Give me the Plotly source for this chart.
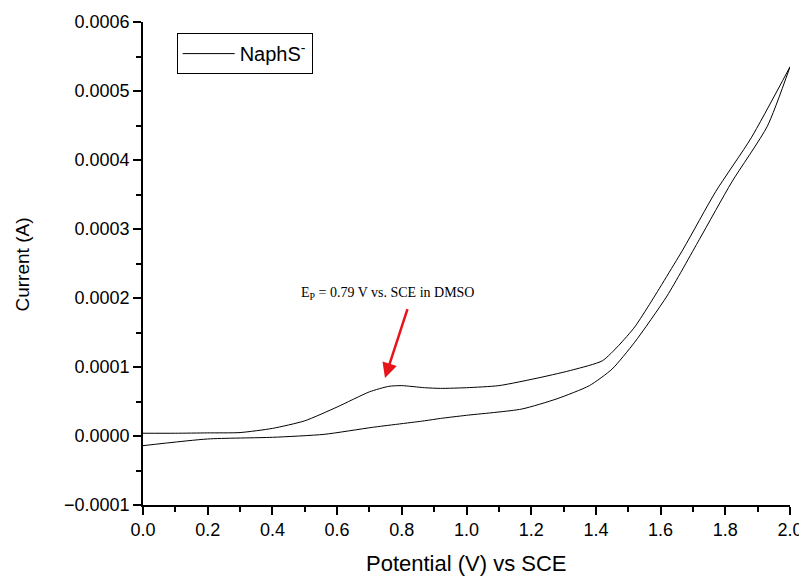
import plotly.graph_objects as go

# Forward scan (0 -> 2.0 V)
v_forward = [0.0, 0.1, 0.2, 0.3, 0.4, 0.5, 0.6, 0.7, 0.76, 0.8, 0.87, 0.92, 1.0, 1.1,
             1.23, 1.33, 1.42, 1.47, 1.52, 1.57, 1.67, 1.77, 1.88, 2.0]
i_forward = [4e-6, 4e-6, 4.5e-6, 5e-6, 1.1e-5, 2.2e-5, 4.2e-5, 6.4e-5, 7.2e-5, 7.3e-5,
             7.0e-5, 6.9e-5, 7.0e-5, 7.3e-5, 8.5e-5, 9.6e-5, 1.09e-4, 1.31e-4, 1.58e-4,
             1.94e-4, 2.71e-4, 3.54e-4, 4.32e-4, 5.35e-4]

# Reverse scan (2.0 -> 0 V)
v_reverse = [2.0, 1.93, 1.82, 1.72, 1.62, 1.52, 1.45, 1.38, 1.28, 1.17, 1.0, 0.92, 0.87,
             0.71, 0.56, 0.4, 0.2, 0.0]
i_reverse = [5.35e-4, 4.49e-4, 3.68e-4, 2.85e-4, 2.03e-4, 1.36e-4, 9.7e-5, 7.3e-5, 5.4e-5,
             3.9e-5, 3.0e-5, 2.55e-5, 2.2e-5, 1.26e-5, 2.4e-6, -1.9e-6, -4.3e-6, -1.4e-5]

series_name = "NaphS<sup>-</sup>"
peak_label = "E<sub>P</sub> = 0.79 V vs. SCE in DMSO"
x_title = "Potential (V) vs SCE"
y_title = "Current (A)"
arrow_tail = (0.819, 1.86e-4)
arrow_head = (0.748, 8.4e-5)

sans = "Arial, Liberation Sans, sans-serif"

fig = go.Figure()
fig.add_trace(go.Scatter(
    x=v_forward, y=i_forward, mode="lines",
    line=dict(color="black", width=1, shape="spline", smoothing=0.6),
    name=series_name, showlegend=True, legendgroup="a",
))
fig.add_trace(go.Scatter(
    x=v_reverse, y=i_reverse, mode="lines",
    line=dict(color="black", width=1, shape="spline", smoothing=0.6),
    name=series_name, showlegend=False, legendgroup="a",
))

fig.add_annotation(
    x=arrow_head[0], y=arrow_head[1], ax=arrow_tail[0], ay=arrow_tail[1],
    xref="x", yref="y", axref="x", ayref="y",
    showarrow=True, arrowhead=2, arrowsize=1.2, arrowwidth=2.5, arrowcolor="#e8141b",
    text="",
)
fig.add_annotation(
    x=0.757, y=2.06e-4, xref="x", yref="y",
    text=peak_label, showarrow=False,
    font=dict(family="Liberation Serif, Times New Roman, serif", size=14, color="black"),
)
# axis titles
fig.add_annotation(
    x=(466 - 143) / 647, y=(505 - 563) / 482, xref="paper", yref="paper",
    text=x_title, showarrow=False, xanchor="center", yanchor="middle",
    font=dict(family=sans, size=22, color="black"),
)
fig.add_annotation(
    x=(23 - 143) / 647, y=(505 - 265) / 482, xref="paper", yref="paper",
    text=y_title, showarrow=False, xanchor="center", yanchor="middle", textangle=-90,
    font=dict(family=sans, size=19, color="black"),
)

axis_font = dict(family=sans, size=18, color="black")

fig.update_layout(
    width=807, height=576,
    margin=dict(l=135, r=25, t=14, b=79),
    paper_bgcolor="white", plot_bgcolor="white",
    font=axis_font,
    showlegend=True,
    legend=dict(
        x=0.052, y=0.977, xanchor="left", yanchor="top",
        bordercolor="black", borderwidth=1, bgcolor="white",
        itemwidth=52,
        font=dict(family=sans, size=20, color="black"),
    ),
    xaxis=dict(
        range=[0, 2.0], dtick=0.2, tick0=0, tickformat=".1f", automargin=False,
        showline=True, linecolor="black", linewidth=1.5, mirror=False,
        ticks="outside", ticklen=8, tickwidth=1.5, tickcolor="black",
        minor=dict(dtick=0.1, ticks="outside", ticklen=5, tickwidth=1.5, tickcolor="black"),
        showgrid=False, zeroline=False, tickfont=axis_font,
    ),
    yaxis=dict(
        range=[-0.0001, 0.0006], dtick=0.0001, tick0=0, tickformat=".4f", automargin=False,
        showline=True, linecolor="black", linewidth=1.5, mirror=False,
        ticks="outside", ticklen=8, tickwidth=1.5, tickcolor="black",
        minor=dict(dtick=0.00005, ticks="outside", ticklen=5, tickwidth=1.5, tickcolor="black"),
        showgrid=False, zeroline=False, tickfont=axis_font,
    ),
)

fig.write_html("out.html")
